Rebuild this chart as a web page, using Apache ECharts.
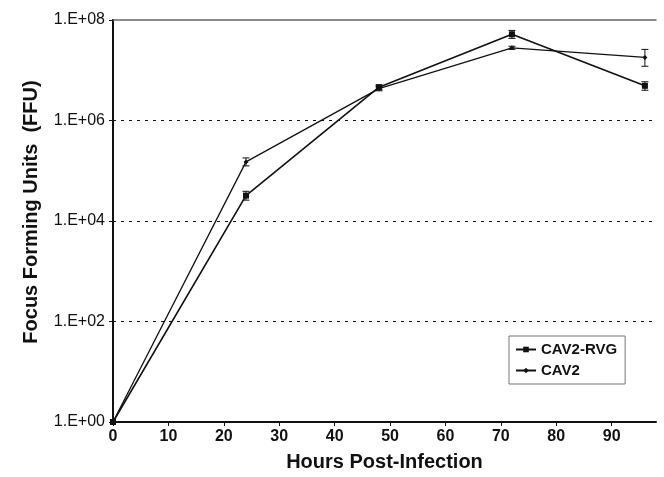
<!DOCTYPE html>
<html>
<head>
<meta charset="utf-8">
<script src="https://cdn.jsdelivr.net/npm/echarts@6/dist/echarts.min.js"></script>
<style>html,body{margin:0;padding:0;background:#fff}#c{width:664px;height:477px}</style>
</head>
<body>
<div id="c"></div>
<script>
var hours = [0, 24, 48, 72, 96];
var rvgValues = [1, 3.2e4, 4.6e6, 5.2e7, 4.9e6];
var cav2Values = [1, 1.5e5, 4.3e6, 2.8e7, 1.8e7];
var rvgErrLow = [1, 2.6e4, 4.1e6, 4.3e7, 4.0e6];
var rvgErrHigh = [1, 3.9e4, 5.1e6, 6.2e7, 5.9e6];
var cav2ErrLow = [1, 1.25e5, 3.9e6, 2.6e7, 1.2e7];
var cav2ErrHigh = [1, 1.8e5, 4.7e6, 3.0e7, 2.6e7];
var xTicks = [0, 10, 20, 30, 40, 50, 60, 70, 80, 90];

function pairs(xs, ys) { return xs.map(function (x, i) { return [x, ys[i]]; }); }
function errData(xs, lo, hi) {
  var out = [];
  xs.forEach(function (x, i) { if (hi[i] > lo[i]) out.push([x, lo[i], hi[i]]); });
  return out;
}
function errSeries(data) {
  return {
    type: 'custom', silent: true, z: 5,
    renderItem: function (params, api) {
      var x = api.value(0);
      var p1 = api.coord([x, api.value(1)]);
      var p2 = api.coord([x, api.value(2)]);
      var w = 3.5;
      var st = { stroke: '#111', lineWidth: 1 };
      return { type: 'group', children: [
        { type: 'line', shape: { x1: p1[0], y1: p1[1], x2: p2[0], y2: p2[1] }, style: st },
        { type: 'line', shape: { x1: p1[0] - w, y1: p1[1], x2: p1[0] + w, y2: p1[1] }, style: st },
        { type: 'line', shape: { x1: p2[0] - w, y1: p2[1], x2: p2[0] + w, y2: p2[1] }, style: st }
      ]};
    },
    data: data
  };
}

var chart = echarts.init(document.getElementById('c'));
var font = 'Liberation Sans, Arial, sans-serif';
chart.setOption({
  animation: false,
  backgroundColor: '#fff',
  grid: { left: 113, right: 8, top: 20, bottom: 54 },
  legend: {
    orient: 'vertical', left: 509, top: 336,
    backgroundColor: '#fff', borderColor: '#777', borderWidth: 1,
    padding: [6, 8, 6, 6], itemGap: 6, itemWidth: 20, itemHeight: 7,
    textStyle: { fontFamily: font, fontSize: 15, fontWeight: 'bold', color: '#111' },
    data: ['CAV2-RVG', 'CAV2']
  },
  xAxis: [{
    type: 'value', min: 0, max: 98, interval: 10,
    name: 'Hours Post-Infection', nameLocation: 'middle', nameGap: 30,
    nameTextStyle: { fontFamily: font, fontSize: 20, fontWeight: 'bold', color: '#111' },
    axisLine: { lineStyle: { color: '#111', width: 2 } },
    axisTick: { show: true, length: 4, lineStyle: { color: '#111', width: 1 } },
    axisLabel: { fontFamily: font, fontSize: 16, fontWeight: 'bold', color: '#111', margin: 7, showMaxLabel: false,
      formatter: function (v) { return xTicks.indexOf(v) >= 0 ? String(v) : ''; } },
    splitLine: { show: false }
  }, {
    type: 'value', position: 'top', min: 0, max: 98,
    axisLine: { show: true, lineStyle: { color: '#666', width: 1.5 } },
    axisTick: { show: false }, axisLabel: { show: false }, splitLine: { show: false }
  }],
  yAxis: [{
    type: 'log', logBase: 10, min: 1, max: 1e8, interval: 2,
    name: 'Focus Forming Units  (FFU)', nameLocation: 'middle', nameGap: 72,
    nameTextStyle: { fontFamily: font, fontSize: 20, fontWeight: 'bold', color: '#111', padding: [0, 0, 0, 18] },
    axisLine: { show: true, lineStyle: { color: '#111', width: 2 } },
    axisTick: { show: true, length: 4, lineStyle: { color: '#111', width: 1 } },
    axisLabel: { fontFamily: font, fontSize: 16, color: '#111', margin: 8,
      formatter: function (v) {
        var e = Math.round(Math.log10(v));
        return '1.E+' + (e < 10 ? '0' : '') + e;
      } },
    splitLine: { show: true, lineStyle: { color: ['#111', '#111', '#111', '#111', 'rgba(0,0,0,0)'], type: [3, 5], width: 1.2 } },
    minorSplitLine: { show: false }
  }, {
    type: 'log', position: 'right', min: 1, max: 1e8,
    axisLine: { show: true, lineStyle: { color: '#111', width: 2 } },
    axisTick: { show: false }, axisLabel: { show: false }, splitLine: { show: false }
  }],
  series: [{
    name: 'CAV2-RVG', type: 'line', data: pairs(hours, rvgValues),
    symbol: 'rect', symbolSize: 6, showAllSymbol: true, z: 10,
    lineStyle: { color: '#111', width: 1.6 }, itemStyle: { color: '#111' }
  }, {
    name: 'CAV2', type: 'line', data: pairs(hours, cav2Values),
    symbol: 'diamond', symbolSize: 5, showAllSymbol: true, z: 10,
    lineStyle: { color: '#111', width: 1.3 }, itemStyle: { color: '#111' }
  },
  errSeries(errData(hours, rvgErrLow, rvgErrHigh)),
  errSeries(errData(hours, cav2ErrLow, cav2ErrHigh))
  ]
});
</script>
</body>
</html>
